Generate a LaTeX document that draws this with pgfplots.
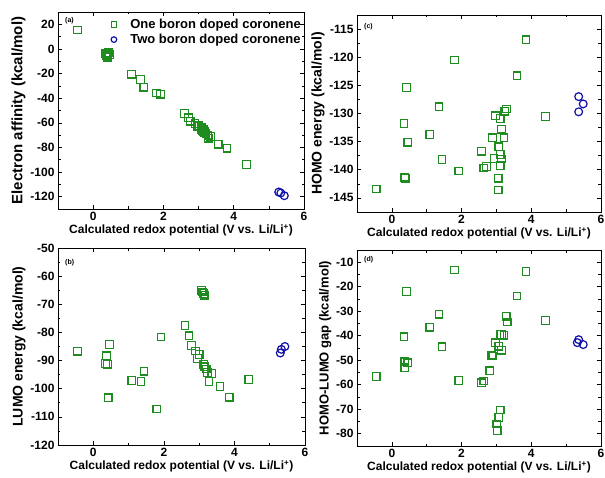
\documentclass[border=0pt]{standalone}
\usepackage{fontspec}
\setmainfont{Liberation Sans}
\usepackage{pgfplots}
\pgfplotsset{compat=1.18}
\definecolor{mygreen}{RGB}{30,140,30}
\definecolor{myblue}{RGB}{15,15,170}
\pgfplotsset{
  panel/.style={
    scale only axis, anchor=south west,
    xmin=-1, xmax=6, xtick={0,2,4,6},
    minor x tick num=1, minor y tick num=1,
    tick align=inside, major tick length=4pt, minor tick length=2.5pt,
    tick style={black, line width=0.6pt},
    axis line style={line width=0.8pt},
    ticklabel style={font=\fontsize{12}{12}\selectfont\bfseries},
    /pgf/number format/assume math mode=true,
    xlabel={Calculated redox potential (V vs. Li/Li\textsuperscript{+})},
    xlabel style={font=\fontsize{12}{14}\selectfont\bfseries, yshift=3pt},
    ylabel style={font=\fontsize{14}{16}\selectfont\bfseries, yshift=-2pt},
  },
  gsq/.style={only marks, mark=square, mark size=3.8pt, mark options={draw=mygreen, line width=1.2pt, fill=none}},
  bci/.style={only marks, mark=o, mark size=3.9pt, mark options={draw=myblue, line width=1.2pt, fill=none}},
}
\begin{document}
\begin{tikzpicture}
% (a)
\begin{axis}[panel, at={(58pt,268pt)}, width=246pt, height=197pt,
  ymin=-130, ymax=30, ytick={-120,-100,-80,-60,-40,-20,0,20},
  ylabel={Electron affinity (kcal/mol)},
  ylabel style={font=\fontsize{15}{17}\selectfont\bfseries},
  legend style={draw=none, fill=none, at={(1,1)}, anchor=north east, xshift=0pt, yshift=-4pt,
    font=\fontsize{13}{13}\selectfont\bfseries, row sep=0pt, inner sep=1pt},
  legend cell align=left,
  legend image code/.code={\path (0cm,0cm) (0.5cm,0cm); \draw[#1, mark size=2.8pt] plot coordinates {(0cm,0cm)};}]
\addplot[gsq] coordinates {
(-0.45,15.4) (0.35,-3.5) (0.37,-5.8) (0.39,-4.2) (0.42,-6.0) (0.46,-4.8)
(0.44,-3.2) (0.40,-6.8)
(1.09,-20.5) (1.35,-24.8) (1.44,-31.0) (1.80,-35.8) (1.92,-36.8)
(2.60,-52.3) (2.71,-56.0) (2.76,-58.7) (2.90,-60.7) (2.98,-63.0)
(3.01,-62.5) (3.07,-65.5) (3.08,-64.0) (3.12,-66.5) (3.15,-65.2)
(3.15,-67.5) (3.16,-68.3) (3.18,-66.8) (3.21,-69.0) (3.27,-70.0)
(3.28,-72.5) (3.35,-71.0) (3.56,-77.4) (3.81,-80.7) (4.36,-94.0)
};
\addlegendentry{One boron doped coronene}
\addplot[bci] coordinates {(5.28,-116.2) (5.34,-117.0) (5.44,-119.2)};
\addlegendentry{Two boron doped coronene}
\node[anchor=north west, font=\fontsize{7}{7}\selectfont\bfseries] at (rel axis cs:0.015,0.99) {(a)};
\end{axis}
% (b)
\begin{axis}[panel, at={(58pt,32pt)}, width=247pt, height=197pt,
  ymin=-120, ymax=-50, ytick={-120,-110,-100,-90,-80,-70,-60,-50},
  ylabel={LUMO energy (kcal/mol)}]
\addplot[gsq] coordinates {
(-0.45,-86.7) (0.35,-91.1) (0.37,-88.3) (0.40,-91.3) (0.42,-103.2) (0.46,-84.3)
(1.09,-97.1) (1.35,-97.4) (1.44,-93.8) (1.80,-107.2) (1.92,-81.6)
(2.60,-77.5) (2.71,-81.2) (2.78,-84.6) (2.90,-86.6) (2.95,-89.2) (3.00,-87.8)
(3.07,-65.0) (3.10,-65.6) (3.13,-66.2) (3.16,-66.8)
(3.13,-91.4) (3.16,-92.2) (3.20,-93.0) (3.24,-94.2) (3.28,-97.5) (3.36,-94.6)
(3.59,-99.2) (3.85,-103.0) (4.41,-96.7)
};
\addplot[bci] coordinates {(5.30,-87.3) (5.33,-86.0) (5.43,-85.0)};
\node[anchor=north west, font=\fontsize{7}{7}\selectfont\bfseries] at (rel axis cs:0.015,0.96) {(b)};
\end{axis}
% (c)
\begin{axis}[panel, at={(357pt,265pt)}, width=244pt, height=197pt,
  ymin=-147.5, ymax=-112.5, ytick={-145,-140,-135,-130,-125,-120,-115},
  ylabel={HOMO energy (kcal/mol)}]
\addplot[gsq] coordinates {
(-0.45,-143.4) (0.42,-125.4) (0.35,-131.8) (0.46,-135.1) (0.37,-141.3) (0.39,-141.5)
(1.09,-133.7) (1.35,-128.8) (1.44,-138.2) (1.80,-120.5) (1.92,-140.2)
(2.57,-136.7) (2.64,-139.7) (2.71,-139.4) (2.89,-134.3) (2.93,-138.0) (2.97,-130.4)
(3.05,-141.5) (3.05,-143.6) (3.07,-135.9) (3.11,-130.9) (3.11,-137.3) (3.11,-139.3)
(3.14,-132.8) (3.14,-138.1) (3.22,-134.3) (3.24,-129.6) (3.29,-129.2)
(3.59,-123.3) (3.85,-116.9) (4.41,-130.5)
};
\addplot[bci] coordinates {(5.36,-127.0) (5.49,-128.3) (5.36,-129.7)};
\node[anchor=north west, font=\fontsize{7}{7}\selectfont\bfseries] at (rel axis cs:0.015,0.975) {(c)};
\end{axis}
% (d)
\begin{axis}[panel, at={(357pt,31pt)}, width=244pt, height=196pt,
  ymin=-85, ymax=-5, ytick={-80,-70,-60,-50,-40,-30,-20,-10},
  ylabel={HOMO-LUMO gap (kcal/mol)},
  ylabel style={font=\fontsize{13}{15}\selectfont\bfseries}]
\addplot[gsq] coordinates {
(-0.45,-56.7) (0.42,-21.9) (0.35,-40.4) (0.37,-50.6) (0.46,-51.0) (0.37,-53.1)
(1.09,-36.5) (1.35,-31.2) (1.44,-44.5) (1.80,-13.2) (1.92,-58.3)
(2.57,-59.2) (2.64,-58.5) (2.81,-54.3) (2.87,-47.9) (2.90,-48.3) (2.97,-42.9)
(3.07,-44.3) (3.10,-39.5) (3.15,-39.5) (3.14,-45.9) (3.22,-39.8) (3.28,-32.0) (3.31,-34.4)
(3.11,-70.3) (3.07,-73.3) (3.01,-76.0) (3.02,-78.8)
(3.59,-23.8) (3.85,-13.7) (4.41,-33.8)
};
\addplot[bci] coordinates {(5.36,-41.6) (5.32,-42.8) (5.49,-43.6)};
\node[anchor=north west, font=\fontsize{7}{7}\selectfont\bfseries] at (rel axis cs:0.015,0.985) {(d)};
\end{axis}
\pgfresetboundingbox
\useasboundingbox (0pt,0pt) rectangle (605pt,477pt);
\end{tikzpicture}
\end{document}
